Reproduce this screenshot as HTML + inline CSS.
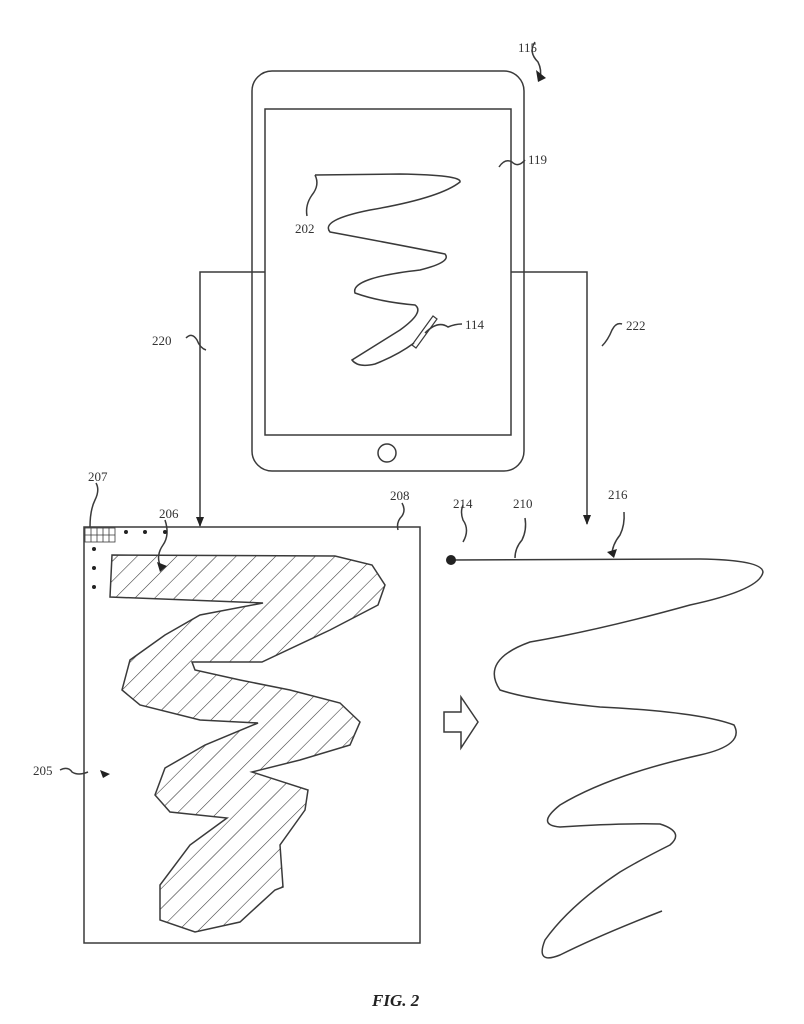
<!DOCTYPE html>
<html><head><meta charset="utf-8"><style>
html,body{margin:0;padding:0;background:#fff}
svg{display:block}
text{font-family:"Liberation Serif",serif;font-size:13px;fill:#333}
</style></head><body>
<svg width="804" height="1024" viewBox="0 0 804 1024" xmlns="http://www.w3.org/2000/svg">
<defs>
<pattern id="h" patternUnits="userSpaceOnUse" width="14" height="14" patternTransform="rotate(45)">
<line x1="0" y1="0" x2="0" y2="14" stroke="#333" stroke-width="1.1"/>
</pattern>
<marker id="a" markerWidth="10" markerHeight="10" refX="9" refY="5" orient="auto" markerUnits="userSpaceOnUse">
<path d="M0,1 L10,5 L0,9 Z" fill="#222"/>
</marker>
</defs>
<g fill="none" stroke="#3a3a3a" stroke-width="1.5">
<!-- tablet -->
<rect x="252" y="71" width="272" height="400" rx="20"/>
<rect x="265" y="109" width="246" height="326"/>
<circle cx="387" cy="453" r="9"/>
<!-- 202 scribble -->
<path d="M315,175 L400,174 Q462,175 460,182 Q440,198 370,210 Q320,220 330,232 Q400,245 445,254 Q452,262 420,270 Q350,278 355,293 Q380,302 415,305 Q425,312 400,330 Q360,355 352,360 Q358,368 375,364 Q398,355 414,343"/>
<path d="M315,175 Q320,185 312,195 Q305,205 307,216"/>
<path d="M412,345 L433,316 L437,319 L416,348 Z" stroke-width="1.2"/>
<path d="M425,333 Q438,320 448,327 Q455,324 462,324"/>
<!-- 119 leader -->
<path d="M499,167 Q505,158 512,162 Q518,168 525,160"/>
<!-- 115 -->
<path d="M535,42 Q528,52 538,62 Q542,70 540,78"/>
<!-- connectors -->
<path d="M265,272 L200,272 L200,526" marker-end="url(#a)"/>
<path d="M511,272 L587,272 L587,524" marker-end="url(#a)"/>
<path d="M186,338 Q192,332 197,340 Q200,348 206,350"/>
<path d="M602,346 Q608,340 612,330 Q616,322 622,324"/>
<!-- left box -->
<rect x="84" y="527" width="336" height="416"/>
<path d="M398,530 Q396,522 402,516 Q406,510 402,503"/>
<path d="M90,527 Q90,510 95,500 Q100,490 96,483"/>
<path d="M160,565 Q156,555 163,545 Q170,535 165,520"/>
<path d="M60,770 Q68,766 72,772 Q78,776 88,772"/>
<!-- hatched blob -->
<path fill="url(#h)" d="M112,555 L110,597 L263,603 L200,615 L165,635 L130,660 L122,690 L140,705 L200,720 L258,723 L205,745 L165,768 L155,795 L170,812 L227,818 L190,845 L160,885 L160,920 L195,932 L240,922 L275,890 L283,887 L280,845 L305,810 L308,790 L252,772 L300,760 L350,745 L360,722 L340,703 L290,690 L240,680 L195,670 L192,662 L262,662 L330,630 L378,605 L385,585 L372,565 L335,556 Z"/>
<!-- grid 207 -->
<g stroke-width="0.8"><rect x="85" y="528" width="30" height="14"/>
<line x1="91" y1="528" x2="91" y2="542"/><line x1="97" y1="528" x2="97" y2="542"/><line x1="103" y1="528" x2="103" y2="542"/><line x1="109" y1="528" x2="109" y2="542"/><line x1="85" y1="535" x2="115" y2="535"/></g>
<!-- right scribble -->
<path d="M451,560 L700,559 Q762,560 763,572 Q760,590 690,605 Q600,630 530,642 Q480,660 500,690 Q530,700 600,707 Q700,712 734,725 Q745,745 700,755 Q610,775 560,805 Q535,825 560,827 Q620,823 660,824 Q685,832 670,845 Q640,860 620,872 Q570,905 545,940 Q535,965 560,955 Q600,935 662,911"/>
<path d="M463,542 Q470,530 463,520 Q460,512 463,505"/>
<path d="M515,558 Q515,548 522,540 Q527,530 525,518"/>
<path d="M612,555 Q612,545 620,535 Q625,525 624,512"/>
<!-- hollow arrow -->
<path d="M444,712 L461,712 L461,697 L478,722 L461,748 L461,732 L444,732 Z"/>
</g>
<g fill="#222">
<circle cx="451" cy="560" r="5"/>
<path d="M607,552 L617,549 L614,558 Z"/>
<path d="M157,562 L167,566 L160,572 Z"/>
<path d="M100,770 L110,774 L103,778 Z"/>
<path d="M536,70 L546,78 L538,82 Z"/>
<circle cx="126" cy="532" r="2"/><circle cx="145" cy="532" r="2"/><circle cx="165" cy="532" r="2"/>
<circle cx="94" cy="549" r="2"/><circle cx="94" cy="568" r="2"/><circle cx="94" cy="587" r="2"/>
</g>
<text x="518" y="52">115</text>
<text x="528" y="164">119</text>
<text x="295" y="233">202</text>
<text x="465" y="329">114</text>
<text x="152" y="345">220</text>
<text x="626" y="330">222</text>
<text x="88" y="481">207</text>
<text x="159" y="518">206</text>
<text x="390" y="500">208</text>
<text x="453" y="508">214</text>
<text x="513" y="508">210</text>
<text x="608" y="499">216</text>
<text x="33" y="775">205</text>
<text x="372" y="1006" style="font-size:17px;font-weight:bold;font-style:italic;fill:#222">FIG. 2</text>
</svg>
</body></html>
